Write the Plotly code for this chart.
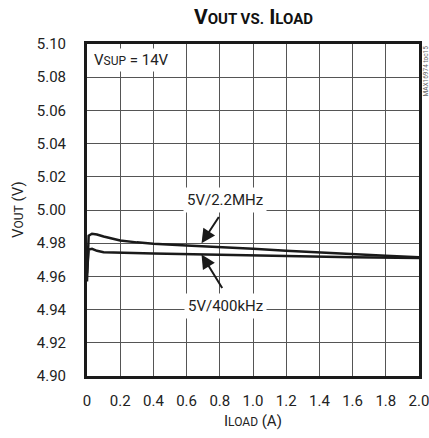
import plotly.graph_objects as go

x_22 = [0, 0.004, 0.01, 0.03, 0.06, 0.1, 0.15, 0.2, 0.3, 0.4, 0.6, 0.8, 1.0, 1.2, 1.4, 1.6, 1.8, 2.0]
y_22 = [4.957, 4.975, 4.9845, 4.9857, 4.9852, 4.984, 4.9826, 4.9816, 4.9805, 4.9797, 4.9786, 4.9777, 4.9766, 4.9754, 4.9743, 4.9733, 4.9724, 4.9716]
x_400 = [0, 0.004, 0.01, 0.03, 0.06, 0.1, 0.2, 0.4, 0.8, 1.2, 1.6, 2.0]
y_400 = [4.962, 4.972, 4.9762, 4.9766, 4.9754, 4.9746, 4.9743, 4.9738, 4.9731, 4.9722, 4.9716, 4.9711]

x_ticks = [0, 0.2, 0.4, 0.6, 0.8, 1.0, 1.2, 1.4, 1.6, 1.8, 2.0]
x_labels = ["0", "0.2", "0.4", "0.6", "0.8", "1.0", "1.2", "1.4", "1.6", "1.8", "2.0"]
y_ticks = [4.90, 4.92, 4.94, 4.96, 4.98, 5.00, 5.02, 5.04, 5.06, 5.08, 5.10]
y_labels = ["4.90", "4.92", "4.94", "4.96", "4.98", "5.00", "5.02", "5.04", "5.06", "5.08", "5.10"]

FONT = "Roboto, sans-serif"
TXT = "#222222"

fig = go.Figure()
fig.add_trace(go.Scatter(x=x_22, y=y_22, mode="lines", line=dict(color="#1a1a1a", width=2.5),
                         name="5V/2.2MHz", showlegend=False))
fig.add_trace(go.Scatter(x=x_400, y=y_400, mode="lines", line=dict(color="#1a1a1a", width=2.5),
                         name="5V/400kHz", showlegend=False))

axis_common = dict(showgrid=True, gridcolor="#555555", gridwidth=1, zeroline=False,
                   showline=True, linecolor="#1a1a1a", linewidth=3, mirror=True,
                   ticks="", automargin=False, ticklabeloverflow="allow",
                   tickfont=dict(family=FONT, size=15, color=TXT))

fig.update_xaxes(range=[0, 2.0], tickvals=x_ticks, ticktext=x_labels,
                 ticklabelstandoff=9, **axis_common)
fig.update_yaxes(range=[4.90, 5.10], tickvals=y_ticks, ticktext=y_labels,
                 ticklabelstandoff=15, **axis_common)

H = 332.0
annotations = [
    dict(x=0.834, y=5.006, text="5V/2.2MHz", showarrow=False, bgcolor="white",
         font=dict(family=FONT, size=15, color=TXT), borderpad=3),
    dict(x=0.834, y=4.942, text="5V/400kHz", showarrow=False, bgcolor="white",
         font=dict(family=FONT, size=15, color=TXT), borderpad=3),
    dict(x=0.69, y=4.9799, ax=0.80, ay=4.9967, axref="x", ayref="y", xref="x", yref="y",
         text="", showarrow=True, arrowhead=2, arrowsize=1.4, arrowwidth=2, arrowcolor="#1a1a1a"),
    dict(x=0.69, y=4.9732, ax=0.82, ay=4.9521, axref="x", ayref="y", xref="x", yref="y",
         text="", showarrow=True, arrowhead=2, arrowsize=1.4, arrowwidth=2, arrowcolor="#1a1a1a"),
    dict(x=0.0, y=5.0905, xanchor="left", xshift=4,
         text="V<span style='font-size:12px'>SUP</span> = 14V",
         showarrow=False, bgcolor="white", font=dict(family=FONT, size=15, color=TXT), borderpad=2),
    dict(xref="paper", yref="paper", x=1.0, y=1.0, xanchor="left", yanchor="top", xshift=0,
         text="MAX16974 toc15", textangle=-90, showarrow=False,
         font=dict(family=FONT, size=6.5, color="#666666")),
    # axis titles
    dict(xref="paper", yref="paper", x=0.5, y=-(421 - 376) / H, xanchor="center", yanchor="middle",
         text="I<span style='font-size:12px'>LOAD</span> (A)", showarrow=False,
         font=dict(family=FONT, size=15, color=TXT)),
    dict(xref="paper", yref="paper", x=(18 - 87) / H, y=0.5, xanchor="center", yanchor="middle",
         text="V<span style='font-size:12px'>OUT</span> (V)", textangle=-90, showarrow=False,
         font=dict(family=FONT, size=15, color=TXT)),
    # chart title
    dict(xref="paper", yref="paper", x=0.5, y=1 + (44 - 17) / H, xanchor="center", yanchor="middle",
         text="<b>V<span style='font-size:15px'>OUT VS.</span> I<span style='font-size:15px'>LOAD</span></b>",
         showarrow=False, font=dict(family=FONT, size=21, color="#111111")),
]

fig.update_layout(
    width=429, height=438,
    margin=dict(l=87, r=10, t=44, b=62),
    paper_bgcolor="white", plot_bgcolor="white",
    annotations=annotations,
)

fig.write_html("out.html", config={"displayModeBar": False, "staticPlot": True},
               post_script="document.body.style.margin='0';document.body.style.overflow='hidden';")
